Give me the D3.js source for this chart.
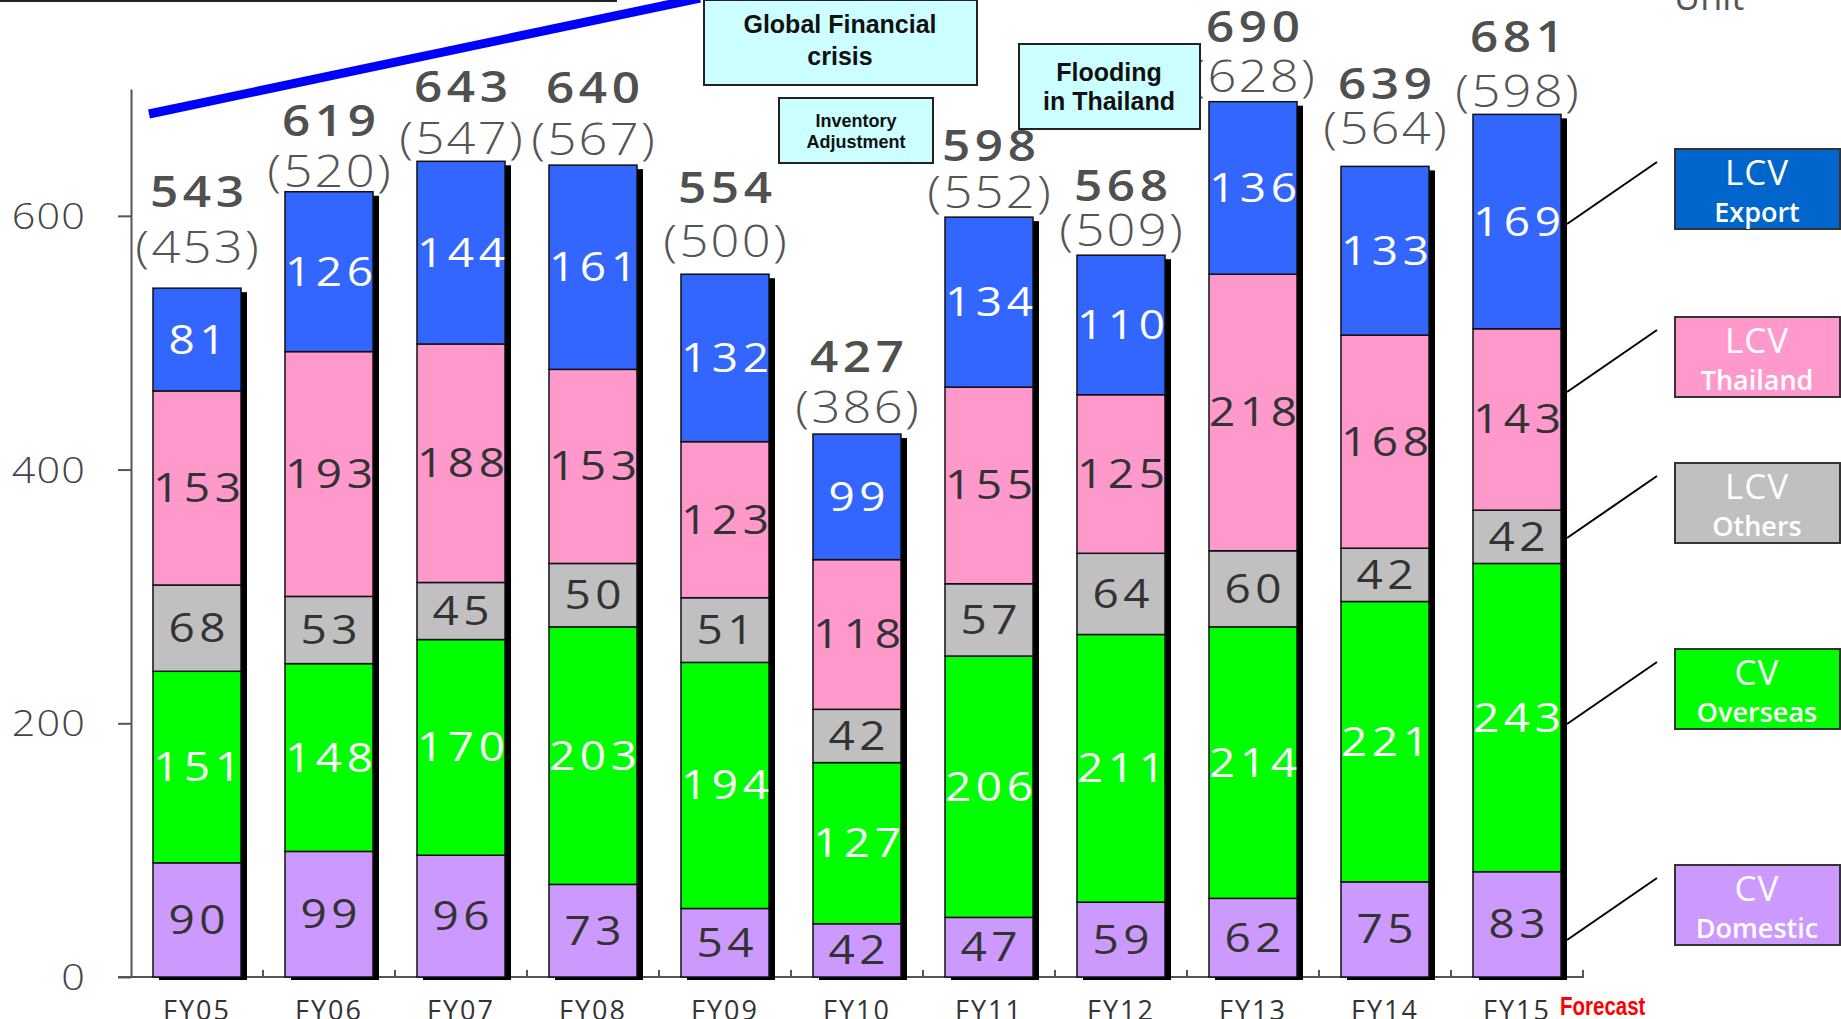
<!DOCTYPE html>
<html>
<head>
<meta charset="utf-8">
<script src="https://cdn.jsdelivr.net/npm/d3@7"></script>
<style>
  html, body { margin: 0; padding: 0; background: #fff; overflow: hidden; }
  svg { display: block; }
</style>
</head>
<body>
<script>
// ---------- data ----------
const categories = ['FY05','FY06','FY07','FY08','FY09','FY10','FY11','FY12','FY13','FY14','FY15'];
const cvDomestic  = [90, 99, 96, 73, 54, 42, 47, 59, 62, 75, 83];
const cvOverseas  = [151,148,170,203,194,127,206,211,214,221,243];
const lcvOthers   = [68, 53, 45, 50, 51, 42, 57, 64, 60, 42, 42];
const lcvThailand = [153,193,188,153,123,118,155,125,218,168,143];
const lcvExport   = [81,126,144,161,132, 99,134,110,136,133,169];
const totals      = [543,619,643,640,554,427,598,568,690,639,681];
const excludingDomestic = [453,520,547,567,500,386,552,509,628,564,598];
const yTicks = [0, 200, 400, 600];
const seriesKeys = ['cvDomestic','cvOverseas','lcvOthers','lcvThailand','lcvExport'];
const legendLines = {
  lcvExport: ['LCV','Export'], lcvThailand: ['LCV','Thailand'], lcvOthers: ['LCV','Others'],
  cvOverseas: ['CV','Overseas'], cvDomestic: ['CV','Domestic']
};
const annotations = [
  { lines: ['Global Financial', 'crisis'] },
  { lines: ['Inventory', 'Adjustment'] },
  { lines: ['Flooding', 'in Thailand'] }
];

// ---------- styles / layout ----------
const W = 1841, H = 1019;
const barColor = { cvDomestic:'#CC99FF', cvOverseas:'#00FF00', lcvOthers:'#C0C0C0', lcvThailand:'#FF99CC', lcvExport:'#3366FF' };
const legendColor = { cvDomestic:'#CC99FF', cvOverseas:'#00FF00', lcvOthers:'#C0C0C0', lcvThailand:'#FF99CC', lcvExport:'#0066CC' };
const labelColor = { cvDomestic:'#333', cvOverseas:'#fff', lcvOthers:'#333', lcvThailand:'#333', lcvExport:'#fff' };
const legendTop = { lcvExport:149, lcvThailand:317, lcvOthers:463, cvOverseas:649, cvDomestic:865 };
const parenLift = [25,5,7,10,17,11,9,9,10,22,7];
const totalLift = [81,56,59,62,71,62,56,54,60,67,62];
const annoBox = [
  { x:704, y:0,  w:273, h:85, size:25, base:[33,65], cx:840 },
  { x:779, y:98, w:154, h:65, size:18, base:[127,148], cx:856 },
  { x:1019,y:44, w:181, h:85, size:25, base:[81,110], cx:1109 }
];
const NUMFONT = "'Open Sans', 'Noto Sans', sans-serif";

const rows = categories.map((c, i) => ({
  cat: c, cvDomestic: cvDomestic[i], cvOverseas: cvOverseas[i], lcvOthers: lcvOthers[i],
  lcvThailand: lcvThailand[i], lcvExport: lcvExport[i], total: totals[i], excl: excludingDomestic[i], i
}));

const x = d3.scaleBand().domain(categories).range([131, 1583]).paddingInner(1/3).paddingOuter(1/6);
const y = d3.scaleLinear().domain([0, 700]).range([977, 89]);
const stack = d3.stack().keys(seriesKeys)(rows);

const svg = d3.select('body').append('svg').attr('width', W).attr('height', H);

function numText(g, cx, baseY, str, opt) {
  const ls = opt.ls || 0, sx = opt.sx || 1.15;
  return g.append('text')
    .attr('transform', `translate(${cx},${baseY}) scale(${sx},1)`)
    .attr('text-anchor', opt.anchor || 'middle')
    .attr('dx', (opt.anchor === 'end') ? ls : ls / 2)
    .style('font-family', NUMFONT)
    .style('font-size', opt.size + 'px')
    .style('font-weight', opt.weight || 400)
    .style('letter-spacing', ls + 'px')
    .attr('fill', opt.fill || '#444')
    .text(str);
}

// top thin line and blue trend line
svg.append('line').attr('x1', 0).attr('x2', 617).attr('y1', 1).attr('y2', 1).attr('stroke', '#222').attr('stroke-width', 2);
svg.append('line').attr('x1', 149).attr('y1', 114).attr('x2', 700).attr('y2', -2).attr('stroke', '#0000FF').attr('stroke-width', 9);

// "Unit" text (cut at top, as in the source)
svg.append('text').attr('x', 1674).attr('y', 10).style('font-family', NUMFONT).style('font-size', '36px')
  .attr('fill', '#555').text('Unit');

// y axis
const yAxis = svg.append('g').attr('transform', 'translate(131,0)')
  .call(d3.axisLeft(y).tickValues(yTicks).tickSize(13).tickSizeOuter(0).tickPadding(0));
yAxis.select('.domain').attr('stroke', '#555').attr('stroke-width', 2);
yAxis.selectAll('.tick line').attr('stroke', '#555').attr('stroke-width', 2);
yAxis.selectAll('.tick text').remove();
yTicks.forEach(v => {
  numText(svg, 85, y(v) + 13, String(v), { size: 36, weight: 300, fill: '#444', anchor: 'end', ls: 1, sx: 1.15 });
});

// x axis baseline and boundary ticks
svg.append('line').attr('x1', 118).attr('x2', 1584).attr('y1', y(0)).attr('y2', y(0)).attr('stroke', '#555').attr('stroke-width', 2);
const step = x.step();
categories.forEach((c, i) => {
  const bx = x(c) - x.paddingOuter() * step + step;
  svg.append('line').attr('x1', bx).attr('x2', bx).attr('y1', y(0)).attr('y2', y(0) - 7).attr('stroke', '#555').attr('stroke-width', 2);
});
const xAxis = svg.append('g').attr('transform', `translate(0,${y(0)})`)
  .call(d3.axisBottom(x).tickSize(0).tickPadding(0));
xAxis.select('.domain').remove();
xAxis.selectAll('.tick text')
  .attr('y', 1020 - y(0)).attr('dy', 0)
  .style('font-family', NUMFONT).style('font-size', '27px').style('letter-spacing', '2px')
  .attr('fill', '#333');

// Forecast label
svg.append('text').attr('transform', 'translate(1560,1015) scale(0.82,1)')
  .style('font-family', "'Liberation Sans', Arial, sans-serif")
  .style('font-weight', 700).style('font-size', '25px').attr('fill', '#FF0000').text('Forecast');

// shadows
const bw = x.bandwidth();
svg.append('g').selectAll('rect').data(rows).join('rect')
  .attr('x', d => x(d.cat) + 6)
  .attr('y', d => y(stack[stack.length - 1][d.i][1]) + 4)
  .attr('width', bw)
  .attr('height', d => y(0) - y(stack[stack.length - 1][d.i][1]) - 1)
  .attr('fill', '#000');

// stacked segments
const segG = svg.append('g');
stack.forEach(s => {
  segG.append('g').selectAll('rect').data(s).join('rect')
    .attr('x', d => x(d.data.cat))
    .attr('y', d => y(d[1]))
    .attr('width', bw)
    .attr('height', d => y(d[0]) - y(d[1]))
    .attr('fill', barColor[s.key])
    .attr('stroke', '#111').attr('stroke-width', 1.5);
});

// segment value labels
stack.forEach(s => {
  s.forEach(d => {
    const cx = x(d.data.cat) + bw / 2;
    const mid = (y(d[0]) + y(d[1])) / 2;
    numText(svg, cx, mid + 14, String(d.data[s.key]), { size: 40, fill: labelColor[s.key], ls: 4, sx: 1.15 });
  });
});

// totals
rows.forEach(d => {
  const cx = x(d.cat) + bw / 2;
  const top = y(stack[stack.length - 1][d.i][1]);
  numText(svg, cx, top - totalLift[d.i], String(d.total), { size: 43, weight: 600, fill: '#505050', ls: 4, sx: 1.15 });
  numText(svg, cx, top - parenLift[d.i], '(' + d.excl + ')', { size: 44, weight: 300, fill: '#555', ls: 2, sx: 1.15 });
});

// legend boxes with leader lines
const barRight = x(categories[categories.length - 1]) + bw + 6;
seriesKeys.forEach(k => {
  const t = legendTop[k];
  svg.append('line').attr('x1', barRight).attr('y1', t + 75).attr('x2', 1657).attr('y2', t + 13)
    .attr('stroke', '#000').attr('stroke-width', 2);
  svg.append('rect').attr('x', 1675).attr('y', t).attr('width', 165).attr('height', 80)
    .attr('fill', legendColor[k]).attr('stroke', '#333').attr('stroke-width', 2);
  svg.append('text').attr('x', 1757).attr('y', t + 36).attr('text-anchor', 'middle')
    .style('font-family', NUMFONT).style('font-size', '35px').style('letter-spacing', '1px')
    .attr('fill', '#fff').text(legendLines[k][0]);
  svg.append('text').attr('x', 1757).attr('y', t + 73).attr('text-anchor', 'middle')
    .style('font-family', NUMFONT).style('font-size', '27px').style('font-weight', 600)
    .attr('fill', '#fff').text(legendLines[k][1]);
});

// annotation boxes
annotations.forEach((a, i) => {
  const b = annoBox[i];
  svg.append('rect').attr('x', b.x).attr('y', b.y).attr('width', b.w).attr('height', b.h)
    .attr('fill', '#CCFFFF').attr('stroke', '#222').attr('stroke-width', 2);
  a.lines.forEach((ln, j) => {
    svg.append('text').attr('x', b.cx).attr('y', b.base[j]).attr('text-anchor', 'middle')
      .style('font-family', "'Liberation Sans', Arial, sans-serif").style('font-weight', 700)
      .style('font-size', b.size + 'px').attr('fill', '#111').text(ln);
  });
});
</script>
</body>
</html>
